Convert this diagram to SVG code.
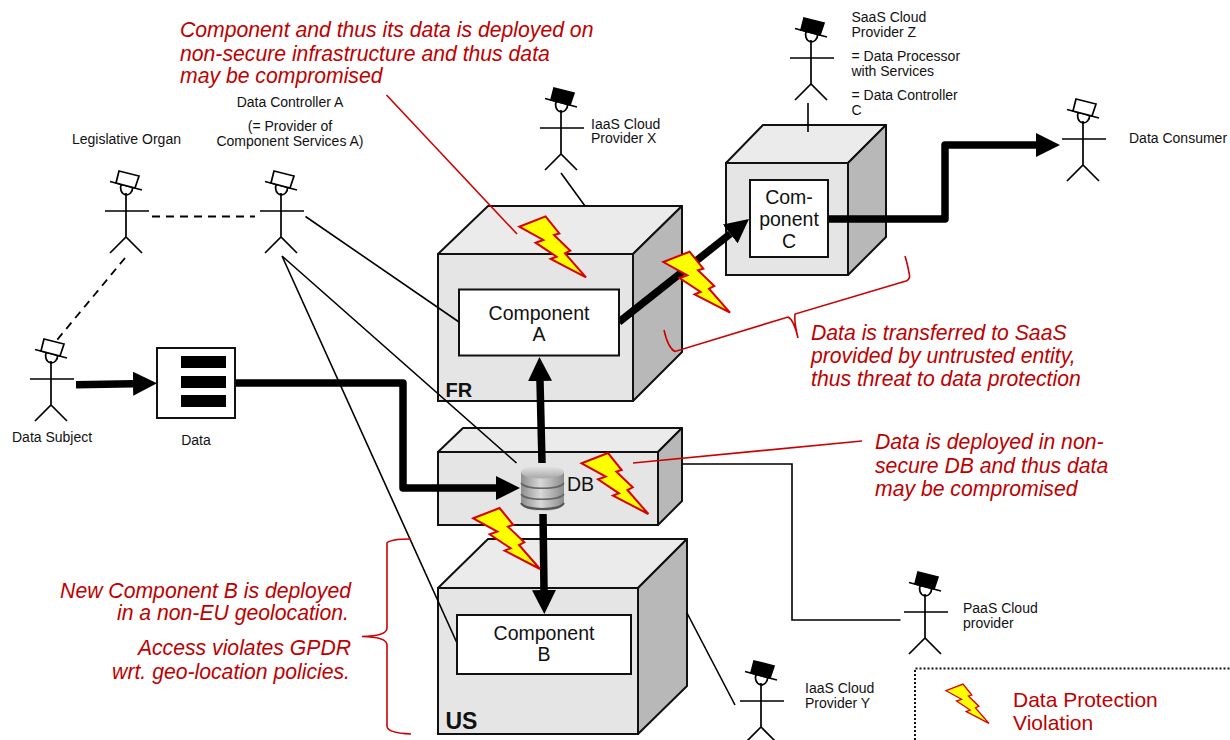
<svg xmlns="http://www.w3.org/2000/svg" xmlns:xlink="http://www.w3.org/1999/xlink" width="1230" height="740" viewBox="0 0 1230 740">
<style>
text{font-family:"Liberation Sans",Arial,sans-serif;fill:#111}
.s{font-size:14px}
.c{font-size:19.5px;text-anchor:middle}
.r{font-size:21.2px;font-style:italic;fill:#c00000}
.re{text-anchor:end}
.b{font-weight:bold}
.front{fill:#e5e5e5;stroke:#111;stroke-width:2}
.top{fill:#ebebeb;stroke:#111;stroke-width:2;stroke-linejoin:round}
.side{fill:#b8b8b8;stroke:#111;stroke-width:2;stroke-linejoin:round}
.box{fill:#fff;stroke:#111;stroke-width:2}
.thin{fill:none;stroke:#000;stroke-width:1.6}
.dash{fill:none;stroke:#000;stroke-width:1.8;stroke-dasharray:8 6}
.thick{fill:none;stroke:#000;stroke-width:7.5;stroke-linejoin:round;marker-end:url(#head)}
.redl{fill:none;stroke:#cc0000;stroke-width:1.6}
.bolt{fill:#ffff00;stroke:#d80000;stroke-width:2;stroke-linejoin:miter}
.stick{fill:none;stroke:#000;stroke-width:1.7}
</style>
<defs>
<marker id="head" markerUnits="userSpaceOnUse" markerWidth="24" markerHeight="24" refX="0" refY="12" orient="auto"><path d="M0,0L24,12L0,24z" fill="#000"/></marker>
<polygon id="boltShape" points="0,0 26.3,-10.3 40,6.7 34.7,8.3 51,24 45.7,26.7 66.7,50.7 31.3,32.3 37.3,30 16.3,16 24,13.3"/>
<g id="actorBody" class="stick">
<path d="M-4.5,-27A6,7 0 1 0 6.5,-24"/>
<path d="M0,-18V26M-21,0H23M-16,42L0,26L16,42"/>
<path d="M-16,-29.5L16,-21"/>
</g>
<g id="actorW"><use xlink:href="#actorBody"/><path d="M-7,-40L13,-35L9,-23L-10,-28z" fill="#fff" stroke="#000" stroke-width="1.7"/></g>
<g id="actorK"><use xlink:href="#actorBody"/><path d="M-7,-40L13,-35L9,-23L-10,-28z" fill="#000" stroke="#000" stroke-width="1.7"/></g>
<linearGradient id="dbg" x1="0" x2="1" y1="0" y2="0"><stop offset="0" stop-color="#8e8e8e"/><stop offset="0.45" stop-color="#d8d8d8"/><stop offset="1" stop-color="#8c8c8c"/></linearGradient>
<linearGradient id="dbt" x1="0" x2="0" y1="0" y2="1"><stop offset="0" stop-color="#e8e8e8"/><stop offset="1" stop-color="#a8a8a8"/></linearGradient>
</defs>

<g id="cube-fr">
<polygon class="top" points="438,254 488,206 682,206 633,254"/>
<polygon class="side" points="633,254 682,206 682,352 633,401"/>
<rect class="front" x="438" y="254" width="195" height="147"/>
</g>
<g id="cube-db">
<polygon class="top" points="438,452 463,428 682,428 658,452"/>
<polygon class="side" points="658,452 682,428 682,501 658,525"/>
<rect class="front" x="438" y="452" width="220" height="73"/>
</g>
<g id="cube-us">
<polygon class="top" points="438,588 488,539 687,539 638,588"/>
<polygon class="side" points="638,588 687,539 687,686 638,734"/>
<rect class="front" x="438" y="588" width="200" height="146"/>
</g>
<g id="cube-c">
<polygon class="top" points="726,163 763,125 886,125 848,163"/>
<polygon class="side" points="848,163 886,125 886,237 848,275"/>
<rect class="front" x="726" y="163" width="122" height="112"/>
</g>

<g id="connectors">
<path class="thin" d="M305.5,216.5L459,322M282,256L516.5,463M282,256L457,643M561,173L585,206M682,464H792V620H900.5M808,103V132M687,613L735,705"/>
<path class="dash" d="M152,216.5H255M125,258L57,340"/>
<path class="thick" d="M76,384.7L133,383.7"/>
<path class="thick" d="M235,383H403V488H496"/>
<path class="thick" d="M542,463L540,381"/>
<path class="thick" d="M543,514L544,590"/>
<path class="thick" d="M619,322L730.2,233.9"/>
<path class="thick" d="M828,219H945V145H1036"/>
<path class="redl" d="M386.5,95L517,234"/>
<path class="redl" d="M664,330Q668,348 675,351.5L788,317Q794,320 798,338Q794,322 795,314L906,281Q911,279 909,273Q908,266 905,256"/>
<path class="redl" d="M633,463L862,441"/>
<path class="redl" d="M411,539Q390,539 387,543V628Q387,636 362,636.5Q387,637 387,645V726Q387,733 411,734"/>
</g>

<g id="component-a"><rect class="box" x="459" y="289.500" width="160" height="66"/><text class="c" x="539" y="319.500">Component</text><text class="c" x="539" y="340.500">A</text></g>
<g id="component-b"><rect class="box" x="457" y="615" width="174" height="59"/><text class="c" x="544" y="640">Component</text><text class="c" x="544" y="661">B</text></g>
<g id="component-c"><rect class="box" x="750" y="180" width="78" height="77"/><text class="c" x="789" y="204">Com-</text><text class="c" x="789" y="226">ponent</text><text class="c" x="789" y="248">C</text></g>
<g id="label-fr"><text class="b" x="445.500" y="397" font-size="20">FR</text></g>
<g id="label-us"><text class="b" x="445.500" y="729" font-size="23">US</text></g>

<g id="data">
<rect x="157" y="348" width="78" height="70" fill="#fff" stroke="#111" stroke-width="2"/>
<path d="M181,356h45v12h-45zM181,376h45v12h-45zM181,395h45v12h-45z" fill="#000"/>
<text class="s" x="196" y="445" text-anchor="middle">Data</text>
</g>

<g id="db">
<path d="M521,472V503C521,507 530,511 542.500,511C555,511 564,507 564,503V472z" fill="url(#dbg)"/>
<ellipse cx="542.500" cy="472" rx="21.500" ry="6.500" fill="url(#dbt)"/>
<path d="M521,483C525,490 560,490 564,483M521,494C525,501 560,501 564,494" fill="none" stroke="#666" stroke-width="1.6"/>
<path d="M521,503C525,511 560,511 564,503" fill="none" stroke="#555" stroke-width="2"/>
<text x="567" y="491" font-size="19.500">DB</text>
</g>

<g id="violation-1"><use xlink:href="#boltShape" class="bolt" x="519.300" y="226.700"/></g>
<g id="violation-2"><use xlink:href="#boltShape" class="bolt" x="663.300" y="262"/></g>
<g id="violation-3"><use xlink:href="#boltShape" class="bolt" x="581.700" y="463.300"/></g>
<g id="violation-4"><use xlink:href="#boltShape" class="bolt" x="473.300" y="518.300"/></g>

<g id="legislative-organ"><use xlink:href="#actorW" x="126" y="211"/><text class="s" x="72" y="144">Legislative Organ</text></g>
<g id="data-controller"><use xlink:href="#actorW" x="281" y="211"/><text class="s" x="290" y="107" text-anchor="middle">Data Controller A</text><text class="s" x="290" y="131" text-anchor="middle">(= Provider of</text><text class="s" x="290" y="146" text-anchor="middle">Component Services A)</text></g>
<g id="data-subject"><use xlink:href="#actorW" x="51" y="379"/><text class="s" x="12" y="442">Data Subject</text></g>
<g id="iaas-x"><use xlink:href="#actorK" x="561" y="128"/><text class="s" x="591" y="128.500">IaaS Cloud</text><text class="s" x="591" y="143">Provider X</text></g>
<g id="saas-z"><use xlink:href="#actorK" x="811" y="58"/><text class="s" x="851.500" y="22">SaaS Cloud</text><text class="s" x="851.500" y="37">Provider Z</text><text class="s" x="851.500" y="61">= Data Processor</text><text class="s" x="851.500" y="76">with Services</text><text class="s" x="851.500" y="100">= Data Controller</text><text class="s" x="851.500" y="115">C</text></g>
<g id="data-consumer"><use xlink:href="#actorW" x="1083" y="139"/><text class="s" x="1129" y="143">Data Consumer</text></g>
<g id="paas"><use xlink:href="#actorK" x="925" y="612"/><text class="s" x="963" y="613">PaaS Cloud</text><text class="s" x="963" y="628">provider</text></g>
<g id="iaas-y"><use xlink:href="#actorK" x="761" y="701"/><text class="s" x="805" y="693">IaaS Cloud</text><text class="s" x="805" y="708">Provider Y</text></g>

<g id="note-infrastructure"><text class="r" x="180" y="37">Component and thus its data is deployed on</text><text class="r" x="180" y="61">non-secure infrastructure and thus data</text><text class="r" x="180" y="83">may be compromised</text></g>
<g id="note-saas"><text class="r" x="811" y="340">Data is transferred to SaaS</text><text class="r" x="811" y="363">provided by untrusted entity,</text><text class="r" x="811" y="386">thus threat to data protection</text></g>
<g id="note-db"><text class="r" x="875" y="449">Data is deployed in non-</text><text class="r" x="875" y="473">secure DB and thus data</text><text class="r" x="875" y="496">may be compromised</text></g>
<g id="note-geo"><text class="r re" x="351" y="598">New Component B is deployed</text><text class="r re" x="349" y="620">in a non-EU geolocation.</text><text class="r re" x="351" y="655">Access violates GPDR</text><text class="r re" x="350" y="679">wrt. geo-location policies.</text></g>

<g id="legend">
<path d="M915,740V668.500H1230" fill="none" stroke="#111" stroke-width="2" stroke-dasharray="2 2"/>
<use xlink:href="#boltShape" class="bolt" transform="translate(946,690.700) scale(0.645)"/>
<text x="1013" y="707" font-size="21" style="fill:#c00000">Data Protection</text>
<text x="1013" y="730" font-size="21" style="fill:#c00000">Violation</text>
</g>
</svg>
